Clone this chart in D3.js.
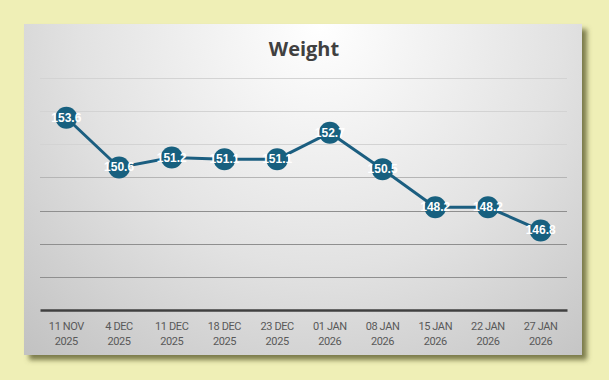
<!DOCTYPE html>
<html><head><meta charset="utf-8">
<script src="https://cdn.jsdelivr.net/npm/d3@7/dist/d3.min.js"></script>
<style>
html,body{margin:0;padding:0;background:#EFEFB6;}
svg{display:block;}
</style></head>
<body>
<script>
const categories = [["11 NOV","2025"],["4 DEC","2025"],["11 DEC","2025"],["18 DEC","2025"],["23 DEC","2025"],["01 JAN","2026"],["08 JAN","2026"],["15 JAN","2026"],["22 JAN","2026"],["27 JAN","2026"]];
const weights = [153.6,150.6,151.2,151.1,151.1,152.7,150.5,148.2,148.2,146.8];
const yTicks = [142,144,146,148,150,152,154,156];
const title = "Weight";

const W=609,H=380;
const svg=d3.select("body").append("svg").attr("width",W).attr("height",H);
const defs=svg.append("defs");
const rg=defs.append("radialGradient").attr("id","bg").attr("gradientUnits","userSpaceOnUse")
 .attr("cx",320).attr("cy",25).attr("r",440).attr("fx",320).attr("fy",25);
rg.append("stop").attr("offset","0%").attr("stop-color","#ffffff");
rg.append("stop").attr("offset","55%").attr("stop-color","#e2e2e2");
rg.append("stop").attr("offset","100%").attr("stop-color","#c2c2c2");
const f=defs.append("filter").attr("id","sh").attr("x","-10%").attr("y","-10%").attr("width","130%").attr("height","130%");
f.append("feGaussianBlur").attr("in","SourceAlpha").attr("stdDeviation",2.5).attr("result","b");
f.append("feOffset").attr("in","b").attr("dx",5).attr("dy",5).attr("result","o");
f.append("feFlood").attr("flood-color","#6f6f40").attr("flood-opacity",0.9);
f.append("feComposite").attr("in2","o").attr("operator","in").attr("result","s");
const m=f.append("feMerge");m.append("feMergeNode").attr("in","s");m.append("feMergeNode").attr("in","SourceGraphic");

const px=24,py=24,pw=558,ph=331;
svg.append("rect").attr("x",px).attr("y",py).attr("width",pw).attr("height",ph).attr("fill","url(#bg)").attr("filter","url(#sh)");

svg.append("text").attr("x",304).attr("y",56).attr("text-anchor","middle")
 .attr("font-family","'Open Sans', 'Noto Sans', sans-serif").attr("font-weight","bold").attr("font-size",20).attr("fill","#404040").text(title);

const x=d3.scaleBand().domain(d3.range(categories.length)).range([40,567]);
const y=d3.scaleLinear().domain([142,156]).range([310,78]);

const grid=svg.append("g");
grid.selectAll("line").data(yTicks.slice(1)).join("line")
 .attr("x1",40).attr("x2",567).attr("y1",d=>Math.round(y(d))+0.5).attr("y2",d=>Math.round(y(d))+0.5)
 .attr("stroke",(d,i)=>i<3?"#8f8f8f":(i<4?"#b5b5b5":"#d3d3d3")).attr("stroke-width",1);

const ax=svg.append("g").attr("transform","translate(0,310)").call(d3.axisBottom(x).tickSize(0).tickFormat(""));
ax.select(".domain").attr("stroke","#404040").attr("stroke-width",2.5);
const lbl=svg.append("g").attr("font-family","Roboto, 'Noto Sans', sans-serif").attr("font-size",11).attr("fill","#595959").attr("text-anchor","middle");
categories.forEach((c,i)=>{
  const t=lbl.append("text").attr("x",x(i)+x.bandwidth()/2).attr("y",330).attr("letter-spacing",-0.4);
  t.append("tspan").attr("x",x(i)+x.bandwidth()/2).text(c[0]);
  t.append("tspan").attr("x",x(i)+x.bandwidth()/2).attr("dy",15).text(c[1]);
});

const cx=i=>x(i)+x.bandwidth()/2;
const line=d3.line().x((d,i)=>cx(i)).y(d=>y(d));
svg.append("path").datum(weights).attr("d",line).attr("fill","none").attr("stroke","#1B5E80").attr("stroke-width",3);
svg.append("g").selectAll("circle").data(weights).join("circle")
 .attr("cx",(d,i)=>cx(i)).attr("cy",d=>y(d)).attr("r",11).attr("fill","#17607F");
svg.append("g").selectAll("text").data(weights).join("text")
 .attr("x",(d,i)=>cx(i)).attr("y",d=>y(d)+4).attr("text-anchor","middle")
 .attr("font-family","'Liberation Sans', Arial, sans-serif").attr("font-weight","bold").attr("font-size",12).attr("fill","#ffffff")
 .text(d=>d.toFixed(1));
</script>
</body></html>
